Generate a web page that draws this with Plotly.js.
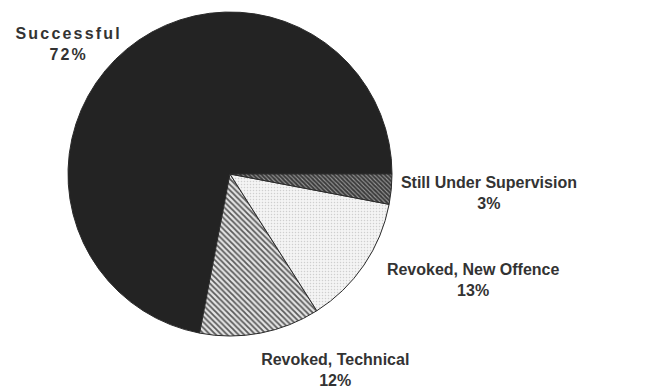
<!DOCTYPE html>
<html>
<head>
<meta charset="utf-8">
<script src="https://cdn.plot.ly/plotly-3.0.1.min.js"></script>
<style>
  html, body { margin: 0; padding: 0; background: #fff; }
  #chart { width: 646px; height: 388px; }
</style>
</head>
<body>
<div id="chart"></div>
<script>
const categories = ["Successful", "Revoked, Technical", "Revoked, New Offence", "Still Under Supervision"];
const percents = [72, 12, 13, 3];
const percentLabels = ["72%", "12%", "13%", "3%"];

// label anchor centres in pixels (layout only)
const labelPos = [
  [68, 44],
  [335, 370],
  [473, 280],
  [489, 193]
];

const W = 646, H = 388;
const cx = 230, cy = 174, r = 162;

const trace = {
  type: "pie",
  values: percents,
  labels: categories,
  sort: false,
  direction: "counterclockwise",
  rotation: -169.2,
  textinfo: "none",
  hoverinfo: "label+percent",
  showlegend: false,
  domain: {
    x: [(cx - r) / W, (cx + r) / W],
    y: [(H - (cy + r)) / H, (H - (cy - r)) / H]
  },
  marker: {
    colors: ["#232323", "#b8b8b8", "#ececec", "#4a4a4a"],
    line: { color: "#2a2a2a", width: 1 },
    pattern: {
      shape: ["", "\\", ".", "\\"],
      bgcolor: ["#232323", "#e4e4e4", "#f4f4f4", "#3a3a3a"],
      fgcolor: ["#232323", "#5a5a5a", "#cfcfcf", "#9a9a9a"],
      size: [4, 4, 3, 3],
      solidity: [0.5, 0.45, 0.2, 0.35],
      fillmode: "replace"
    }
  }
};

const annotations = categories.map((c, i) => ({
  xref: "paper", yref: "paper",
  x: labelPos[i][0] / W,
  y: 1 - labelPos[i][1] / H,
  xanchor: "center", yanchor: "middle",
  text: c + "<br>" + percentLabels[i],
  showarrow: false,
  align: "center",
  font: { family: "Liberation Sans, Arial, sans-serif", size: 16, color: "#333" }
}));

const layout = {
  width: W, height: H,
  margin: { l: 0, r: 0, t: 0, b: 0 },
  paper_bgcolor: "#fff",
  plot_bgcolor: "#fff",
  annotations: annotations
};

Plotly.newPlot("chart", [trace], layout, { displayModeBar: false, staticPlot: true }).then(() => {
  document.querySelectorAll(".annotation-text").forEach((t, i) => {
    t.style.fontWeight = "bold";
    t.style.letterSpacing = i === 0 ? "2.2px" : "0px";
  });
});
</script>
</body>
</html>
